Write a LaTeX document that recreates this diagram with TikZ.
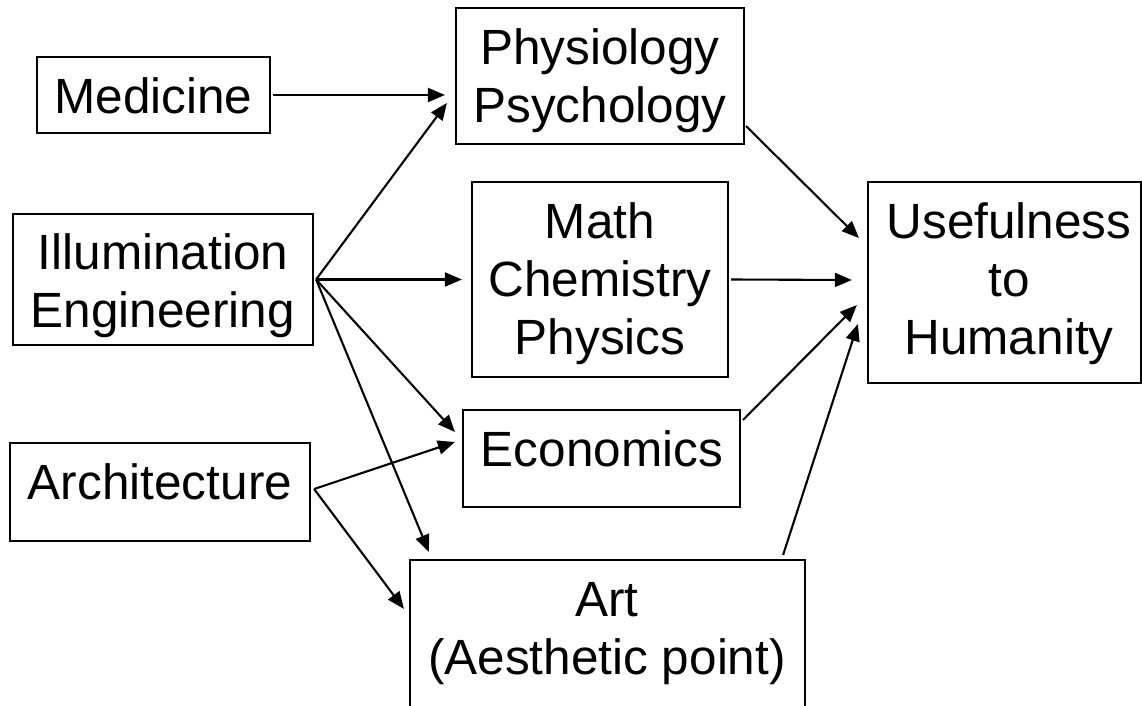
\documentclass[tikz,border=0pt]{standalone}
\usepackage{fontspec}
\setmainfont{Liberation Sans}
\usetikzlibrary{arrows.meta,calc}
\begin{document}
\begin{tikzpicture}[x=1pt,y=-1pt,
  box/.style={draw,line width=2.2pt,inner sep=0pt},
  lbl/.style={inner sep=0pt,anchor=north,align=center,font=\fontsize{49.5}{58}\selectfont},
  arr/.style={line width=2.1pt,-{Triangle[length=17pt,width=14pt]}}]
\useasboundingbox (0,0) rectangle (1142,706);
\clip (0,0) rectangle (1142,706);
% boxes
\node[box,minimum width=233pt,minimum height=76pt]  (med)   at (153.5,95)  {};
\node[box,minimum width=288pt,minimum height=136pt] (phys)  at (600,76)    {};
\node[box,minimum width=300pt,minimum height=131pt] (illum) at (163,279.5) {};
\node[box,minimum width=256pt,minimum height=195pt] (math)  at (600,279.5) {};
\node[box,minimum width=273pt,minimum height=201pt] (use)   at (1004.5,282.5){};
\node[box,minimum width=277pt,minimum height=97pt]  (econ)  at (601.5,458.5){};
\node[box,minimum width=300pt,minimum height=98pt]  (arch)  at (160,492)   {};
\node[box,minimum width=395pt,minimum height=160pt] (art)   at (607.5,640) {};
% labels
\node[lbl] (medT)   at (153.5,77) {Medicine};
\node[lbl] (physT)  at (600,28)   {Physiology\\Psychology};
\node[lbl] (illumT) at (163,233)  {Illumination\\Engineering};
\node[lbl] (mathT)  at (600,202)  {Math\\Chemistry\\Physics};
\node[lbl] (useT)   at (1009,202) {Usefulness\\to\\Humanity};
\node[lbl] (econT)  at (602,430)  {Economics};
\node[lbl] (archT)  at (160,463)  {Architecture};
\node[lbl] (artT)   at (607,582)  {Art\\(Aesthetic point)};
% arrow origins
\coordinate (io) at ($(illum.east)+(2,0)$);
\coordinate (ao) at ($(arch.east)+(3,-3)$);
% connectors
\draw[arr] ($(med.east)+(2,0)$) -- ($(phys.west)+(-10,19)$);
\draw[arr] (io) -- ($(phys.west)+(-8,27)$);
\draw[arr] (io) -- ($(math.west)+(-9,0)$);
\draw[arr] (io) -- ($(econ.west)+(-7,-26.5)$);
\draw[arr] (io) -- ($(art.north west)+(20,-7)$);
\draw[arr] (ao) -- ($(econ.west)+(-7,-16.5)$);
\draw[arr] (ao) -- ($(art.north west)+(-5,50)$);
\draw[arr] ($(phys.south east)+(1,-19)$) -- ($(use.west)+(-8,-44.5)$);
\draw[arr] ($(math.east)+(2,0)$) -- ($(use.west)+(-15,-2.5)$);
\draw[arr] ($(econ.north east)+(2,11)$) -- ($(use.west)+(-10,22.5)$);
\draw[arr] ($(art.north east)+(-23,-4)$) -- ($(use.west)+(-9,41.5)$);
\end{tikzpicture}
\end{document}
